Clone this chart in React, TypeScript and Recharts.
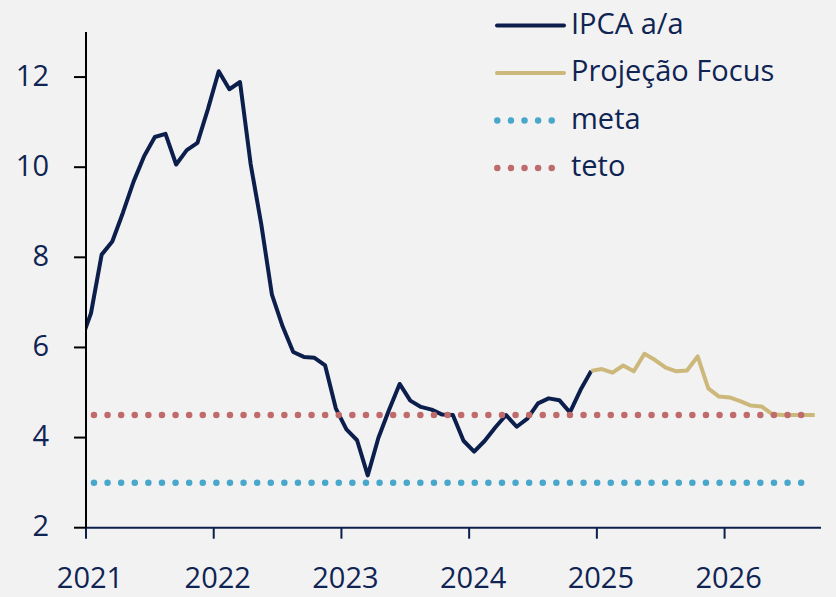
import React from 'react';
import { LineChart, Line, XAxis, YAxis, Legend } from 'recharts';

// Month index: Jan 2021 = 0
const IPCA_START = 2; // Mar 2021
const IPCA: number[] = [
  6.10, 6.76, 8.06, 8.35, 8.99, 9.68, 10.25, 10.67, 10.74, 10.06,
  10.38, 10.54, 11.30, 12.13, 11.73, 11.89, 10.07, 8.73, 7.17, 6.47, 5.90, 5.79,
  5.77, 5.60, 4.65, 4.18, 3.94, 3.16, 3.99, 4.61, 5.19, 4.82, 4.68, 4.62,
  4.51, 4.50, 3.93, 3.69, 3.93, 4.23, 4.50, 4.24, 4.42, 4.76, 4.87, 4.83,
  4.56, 5.06, 5.48,
];
const FOCUS_START = 50; // Mar 2025
const FOCUS: number[] = [
  5.48, 5.52, 5.44, 5.60, 5.47, 5.86, 5.72, 5.55, 5.47, 5.49, 5.80,
  5.09, 4.91, 4.89, 4.81, 4.71, 4.69, 4.52, 4.50, 4.50, 4.50, 4.50,
];
const END_MONTH = 71; // Dec 2026
const META = 3.0;
const TETO = 4.5;

const YEAR_TICKS = [2.53, 14.53, 26.53, 38.53, 50.53, 62.53];
const YEAR_LABELS = ['2021', '2022', '2023', '2024', '2025', '2026'];
const Y_TICKS = [2, 4, 6, 8, 10, 12];

const SERIES_NAMES = ['IPCA a/a', 'Projeção Focus', 'meta', 'teto'];

const NAVY = '#0c1f4c';
const TEXT = '#0f2453';
const GOLD = '#cdb87c';
const BLUE = '#4aa7cc';
const RED = '#c06b6b';
const BG = '#f2f2f2';
const FONT = '"Open Sans", "Noto Sans", sans-serif';

const data: any[] = [];
for (let m = IPCA_START; m <= END_MONTH; m++) {
  const i = m - IPCA_START;
  const j = m - FOCUS_START;
  data.push({
    m,
    ipca: i < IPCA.length ? IPCA[i] : null,
    focus: j >= 0 && j < FOCUS.length ? FOCUS[j] : null,
    meta: META,
    teto: TETO,
  });
}

const XTick = (props: any) => {
  const { x, y, payload } = props;
  const idx = YEAR_TICKS.indexOf(payload.value);
  return (
    <text x={x + 4} y={y} dy="0.71em" textAnchor="middle" fill={TEXT} fontSize={29} fontFamily={FONT}>
      {YEAR_LABELS[idx] ?? ''}
    </text>
  );
};

const YTick = (props: any) => {
  const { x, y, payload } = props;
  return (
    <text x={x} y={y} dy="0.3em" textAnchor="end" fill={TEXT} fontSize={29} fontFamily={FONT}>
      {payload.value}
    </text>
  );
};

const LegendContent = () => {
  const rows = [
    { name: SERIES_NAMES[0], color: NAVY, dotted: false },
    { name: SERIES_NAMES[1], color: GOLD, dotted: false },
    { name: SERIES_NAMES[2], color: BLUE, dotted: true },
    { name: SERIES_NAMES[3], color: RED, dotted: true },
  ];
  return (
    <svg width={836} height={200} style={{ display: 'block' }}>
      {rows.map((r, i) => {
        const cy = 25.6 + 47.5 * i;
        const base = 34.3 + 47.1 * i;
        return (
          <g key={r.name}>
            {r.dotted ? (
              <line x1={497.3} x2={551.8} y1={cy} y2={cy} stroke={r.color} strokeWidth={6.5}
                strokeLinecap="round" strokeDasharray="0 13.6" />
            ) : (
              <line x1={497} x2={564} y1={cy} y2={cy} stroke={r.color} strokeWidth={4} strokeLinecap="round" />
            )}
            <text x={571} y={base} fill={TEXT} fontSize={29} fontFamily={FONT}>{r.name}</text>
          </g>
        );
      })}
    </svg>
  );
};

export default function App() {
  return (
    <div style={{ position: 'absolute', left: 0, top: 0, width: 836, height: 597, background: BG }}>
      <LineChart width={836} height={597} data={data}
        margin={{ top: 32, right: 15, bottom: 29.3, left: 0 }}>
        <XAxis dataKey="m" type="number" domain={[2.53, 71.59]} allowDataOverflow
          ticks={YEAR_TICKS} interval={0} height={40} tickSize={11} tickMargin={29}
          axisLine={{ stroke: NAVY, strokeWidth: 2 }} tickLine={{ stroke: NAVY, strokeWidth: 2 }}
          tick={<XTick />} />
        <YAxis type="number" domain={[2, 13]} allowDataOverflow ticks={Y_TICKS} interval={0}
          width={86} tickSize={12} tickMargin={25}
          axisLine={{ stroke: '#000', strokeWidth: 2 }} tickLine={{ stroke: '#000', strokeWidth: 2 }}
          tick={<YTick />} />
        <Legend layout="vertical" align="center" verticalAlign="middle" content={<LegendContent />}
          wrapperStyle={{ left: 0, top: 0, width: 836, height: 200 }} />
        <Line dataKey="ipca" name={SERIES_NAMES[0]} type="linear" stroke={NAVY} strokeWidth={4}
          dot={false} activeDot={false} isAnimationActive={false} strokeLinejoin="round" />
        <Line dataKey="focus" name={SERIES_NAMES[1]} type="linear" stroke={GOLD} strokeWidth={4}
          dot={false} activeDot={false} isAnimationActive={false} strokeLinejoin="round" />
        <Line dataKey="meta" name={SERIES_NAMES[2]} type="linear" stroke={BLUE} strokeWidth={6.5}
          strokeDasharray="0 13.6" strokeLinecap="round"
          dot={false} activeDot={false} isAnimationActive={false} />
        <Line dataKey="teto" name={SERIES_NAMES[3]} type="linear" stroke={RED} strokeWidth={6.5}
          strokeDasharray="0 13.6" strokeLinecap="round"
          dot={false} activeDot={false} isAnimationActive={false} />
      </LineChart>
    </div>
  );
}
